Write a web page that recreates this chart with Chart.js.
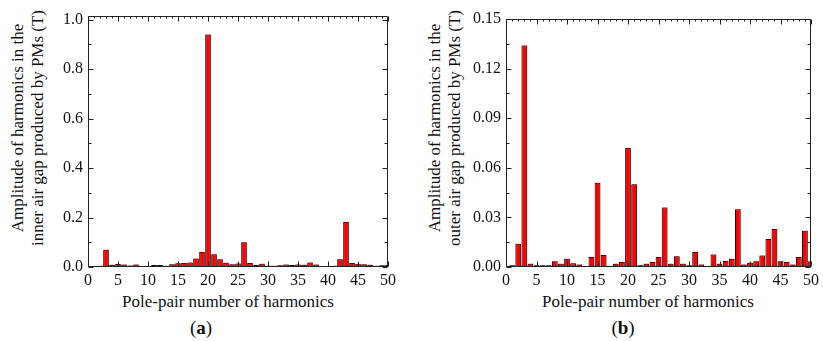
<!DOCTYPE html>
<html><head><meta charset="utf-8">
<script src="https://cdn.jsdelivr.net/npm/chart.js@4.4.1/dist/chart.umd.min.js"></script>
<style>
html,body{margin:0;padding:0;background:#fff;}
body{width:823px;height:341px;position:relative;overflow:hidden;font-family:"Liberation Serif","Times New Roman",Tinos,"DejaVu Serif",serif;color:#111;}
canvas{position:absolute;top:0;}
.yt{position:absolute;width:260px;height:40px;transform:rotate(-90deg);text-align:center;font-size:17px;line-height:20px;white-space:nowrap;}
.xt{position:absolute;font-size:17px;line-height:20px;white-space:nowrap;transform:translateX(-50%);}
.lab{position:absolute;font-size:19px;line-height:22px;transform:translateX(-50%);}
</style></head><body>
<div class="yt" style="left:-102px;top:108px;">Amplitude of harmonics in the<br>inner air gap produced by PMs (T)</div>
<div class="yt" style="left:315px;top:108px;">Amplitude of harmonics in the<br>outer air gap produced by PMs (T)</div>
<div class="xt" style="left:228px;top:292px;">Pole-pair number of harmonics</div>
<div class="xt" style="left:648px;top:292px;">Pole-pair number of harmonics</div>
<div class="lab" style="left:201px;top:317px;">(<b>a</b>)</div>
<div class="lab" style="left:623px;top:317px;">(<b>b</b>)</div>
<canvas id="c1" style="left:0px;width:400px;height:290px;" width="400" height="290"></canvas>
<canvas id="c2" style="left:419px;width:404px;height:290px;" width="404" height="290"></canvas>
<script>
// Data
const harmonics = [1,2,3,4,5,6,7,8,9,10,11,12,13,14,15,16,17,18,19,20,21,22,23,24,25,26,27,28,29,30,31,32,33,34,35,36,37,38,39,40,41,42,43,44,45,46,47,48,49,50];
const innerAmp = [0.004,0.005,0.070,0.009,0.012,0.010,0.006,0.010,0.003,0.002,
                  0.008,0.008,0.005,0.011,0.015,0.016,0.018,0.034,0.061,0.940,
                  0.052,0.031,0.017,0.011,0.014,0.100,0.016,0.008,0.013,0.005,
                  0.005,0.007,0.010,0.008,0.010,0.009,0.018,0.010,0.003,0.003,
                  0.005,0.031,0.182,0.016,0.013,0.011,0.009,0.005,0.007,0.008];
const outerAmp = [0.001,0.014,0.134,0.002,0.001,0.001,0.001,0.0035,0.002,0.005,
                  0.0022,0.0015,0.0006,0.006,0.051,0.0073,0.0004,0.002,0.003,0.072,
                  0.050,0.001,0.002,0.003,0.006,0.036,0.002,0.0065,0.002,0.001,
                  0.009,0.0015,0.0003,0.0075,0.002,0.0036,0.005,0.035,0.0015,0.0025,
                  0.0035,0.007,0.017,0.023,0.0035,0.003,0.0015,0.006,0.022,0.0035];
const xTicks = [0,5,10,15,20,25,30,35,40,45,50];
const xTickLabels = ['0','5','10','15','20','25','30','35','40','45','50'];
const innerTicks = [0,0.2,0.4,0.6,0.8,1.0];
const innerTickLabels = ['0.0','0.2','0.4','0.6','0.8','1.0'];
const outerTicks = [0,0.03,0.06,0.09,0.12,0.15];
const outerTickLabels = ['0.00','0.03','0.06','0.09','0.12','0.15'];

const FONT = '"Liberation Serif", "Times New Roman", Tinos, "DejaVu Serif", serif';

const shadowPlugin = {
  id:'barShadow',
  beforeDatasetsDraw(chart){
    const ctx=chart.ctx; ctx.save();
    ctx.shadowColor='rgba(150,40,40,0.55)';
    ctx.shadowOffsetX=1; ctx.shadowOffsetY=-1; ctx.shadowBlur=1;
  },
  afterDatasetsDraw(chart){ chart.ctx.restore(); }
};

const framePlugin = {
  id:'frame',
  afterDraw(chart, args, opts){
    const {ctx, chartArea:a, scales:{x,y}} = chart;
    const L=Math.round(a.left)+0.5, R=Math.round(a.right)-0.5, T=Math.round(a.top)+0.5, B=Math.round(a.bottom)-0.5;
    ctx.save();
    ctx.strokeStyle='#222'; ctx.lineWidth=1;
    ctx.beginPath();
    ctx.moveTo(L,T);ctx.lineTo(R,T);ctx.lineTo(R,B);ctx.lineTo(L,B);ctx.closePath();
    const yt = opts.yTicks;
    for(let i=0;i<yt.length;i++){
      const py=Math.round(y.getPixelForValue(yt[i]))+0.5;
      ctx.moveTo(L,py);ctx.lineTo(L+5,py);
      ctx.moveTo(R,py);ctx.lineTo(R-5,py);
      if(i<yt.length-1){
        const pm=Math.round(y.getPixelForValue((yt[i]+yt[i+1])/2))+0.5;
        ctx.moveTo(L,pm);ctx.lineTo(L+3,pm);
        ctx.moveTo(R,pm);ctx.lineTo(R-3,pm);
      }
    }
    for(const v of xTicks){
      const px=Math.round(x.getPixelForValue(v))+0.5;
      ctx.moveTo(px,B);ctx.lineTo(px,B-5);
      ctx.moveTo(px,T);ctx.lineTo(px,T+5);
    }
    for(let v=1;v<50;v++){
      if(v%5===0) continue;
      const px=Math.round(x.getPixelForValue(v))+0.5;
      ctx.moveTo(px,T);ctx.lineTo(px,T+2);
    }
    ctx.stroke();
    ctx.restore();
  }
};

function makeChart(id, values, yMax, yTickVals, yTickLabels, yWidth, pad){
  return new Chart(document.getElementById(id), {
    type:'bar',
    data:{datasets:[{
      data: harmonics.map((h,i)=>({x:h,y:values[i]})),
      backgroundColor:'#ff0000',
      borderColor:'#000000',
      borderWidth:1,
      borderSkipped:false,
      categoryPercentage:1,
      barPercentage:0.94,
      clip:0
    }]},
    options:{
      responsive:false, animation:false,
      layout:{padding:pad},
      plugins:{legend:{display:false},tooltip:{enabled:false},frame:{yTicks:yTickVals}},
      scales:{
        x:{type:'linear',min:0,max:50,offset:false,
           grid:{display:false,drawTicks:false},border:{display:false},
           afterBuildTicks(s){s.ticks=xTicks.map(v=>({value:v}));},
           afterFit(s){s.height=23;},
           ticks:{autoSkip:false,maxRotation:0,padding:4,color:'#111',
                  font:{family:FONT,size:16},
                  callback(v,i){return xTickLabels[i];}}},
        y:{type:'linear',min:0,max:yMax,
           grid:{display:false,drawTicks:false},border:{display:false},
           afterBuildTicks(s){s.ticks=yTickVals.map(v=>({value:v}));},
           afterFit(s){s.width=yWidth;},
           ticks:{autoSkip:false,padding:5,color:'#111',
                  font:{family:FONT,size:16},
                  callback(v,i){return yTickLabels[i];}}}
      }
    },
    plugins:[shadowPlugin, framePlugin]
  });
}
makeChart('c1', innerAmp, 1.015, innerTicks, innerTickLabels, 88, {top:16,left:0,right:12,bottom:0});
makeChart('c2', outerAmp, 0.15, outerTicks, outerTickLabels, 87, {top:19,left:0,right:8,bottom:0});
</script>
</body></html>
